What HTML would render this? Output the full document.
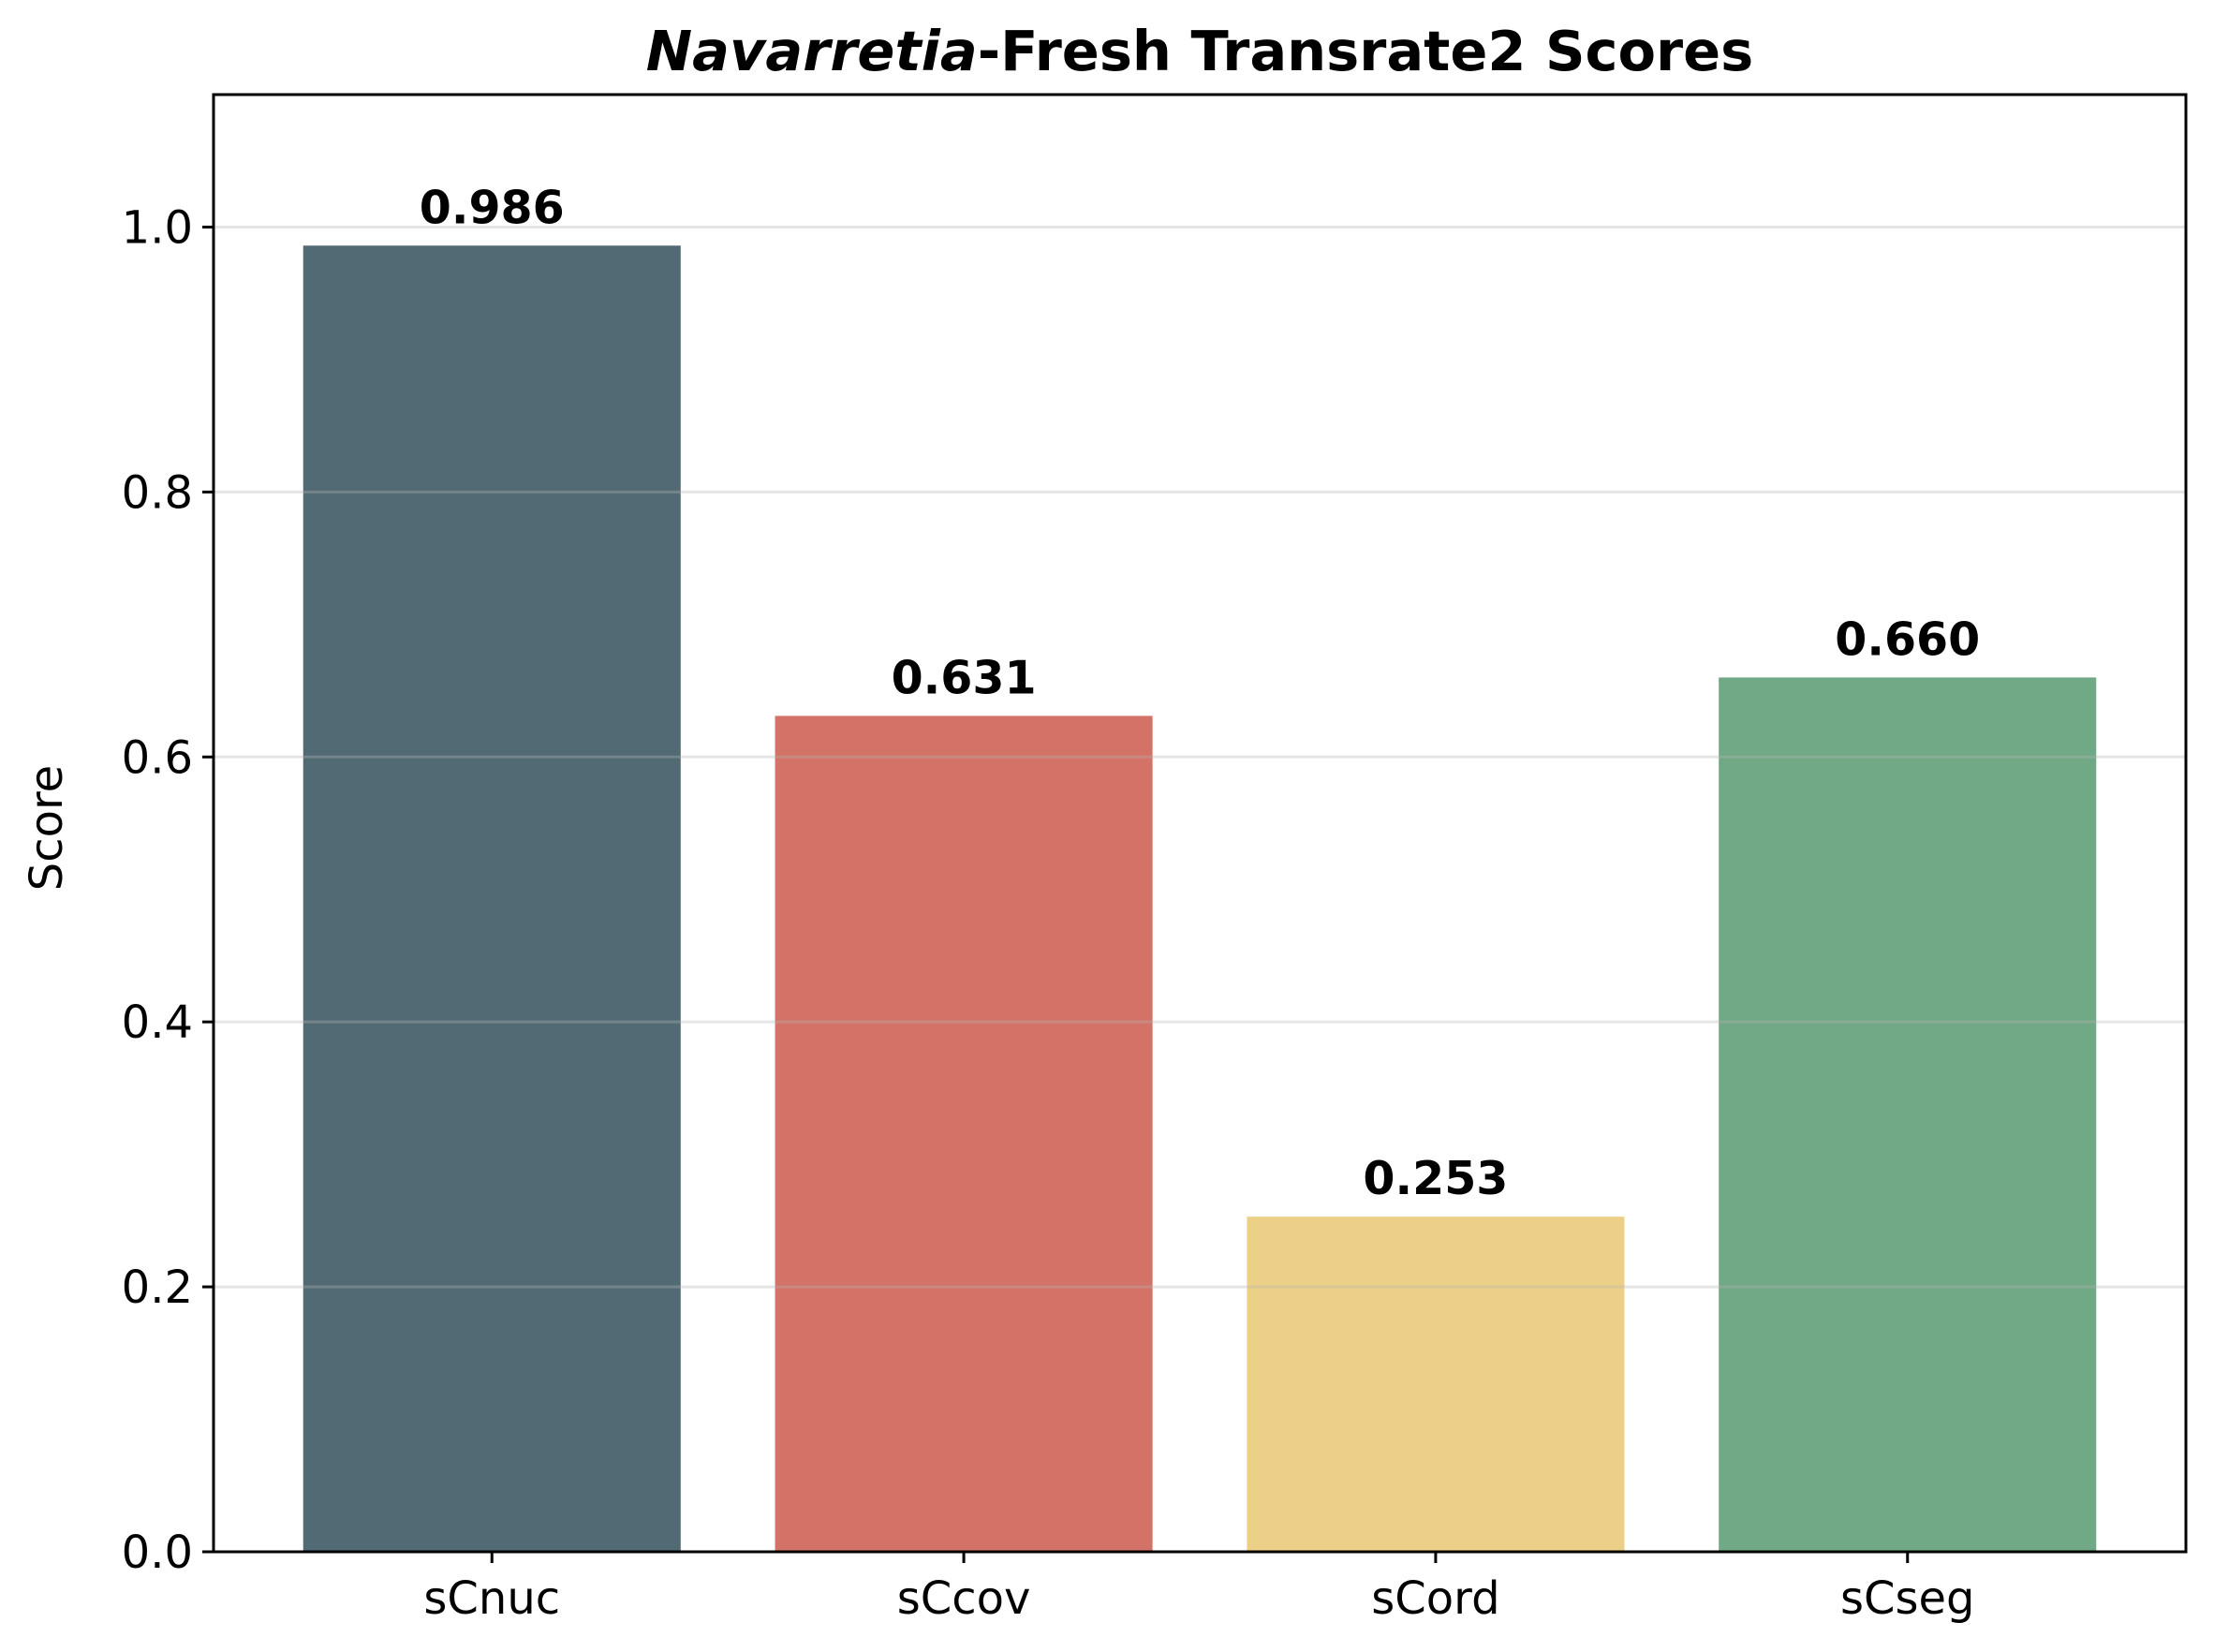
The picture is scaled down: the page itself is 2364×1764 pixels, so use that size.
<!DOCTYPE html>
<html><head><meta charset="utf-8"><style>
html,body{margin:0;padding:0;background:#fff}
svg{display:block}
text{font-family:"DejaVu Sans","Liberation Sans",sans-serif}
</style></head><body>
<svg id="chart" width="2364" height="1764" viewBox="0 0 2364 1764">
<rect width="2364" height="1764" fill="#fff"/>
<g id="bars"></g><g id="grid"></g><g id="labels"></g><g id="axes"></g>
<text x="1281" y="75" text-anchor="middle" font-size="59" font-weight="bold"><tspan font-style="italic">Navarretia</tspan>-Fresh Transrate2 Scores</text>
<text transform="translate(66,884) rotate(-90)" text-anchor="middle" font-size="48">Score</text>
</svg>
<script>
const categories = ["sCnuc","sCcov","sCord","sCseg"];
const values = [0.986,0.631,0.253,0.660];
const valueLabels = ["0.986","0.631","0.253","0.660"];
const colors = ["#526a73","#d37266","#ecd088","#71a885"];
const yTicks = [0.0,0.2,0.4,0.6,0.8,1.0];
const yTickLabels = ["0.0","0.2","0.4","0.6","0.8","1.0"];

const L=228,R=2334,T=101,B=1657;
const xMin=-0.59,xMax=3.59,yMin=0,yMax=1.1;
const x=v=>L+(v-xMin)/(xMax-xMin)*(R-L);
const y=v=>B-(v-yMin)/(yMax-yMin)*(B-T);
const NS="http://www.w3.org/2000/svg";
function mk(tag,attrs,parent){const e=document.createElementNS(NS,tag);for(const k in attrs)e.setAttribute(k,attrs[k]);parent.appendChild(e);return e;}
const gBars=document.getElementById('bars'),gGrid=document.getElementById('grid'),gLab=document.getElementById('labels'),gAx=document.getElementById('axes');
const bw=0.8;
categories.forEach((c,i)=>{
  const r=mk('rect',{x:x(i-bw/2),y:y(values[i]),width:x(i+bw/2)-x(i-bw/2),height:y(0)-y(values[i]),fill:colors[i]},gBars);
  
  
  const t=mk('text',{x:x(i),y:y(values[i])-24,'text-anchor':'middle','font-size':'49','font-weight':'bold'},gLab);
  t.textContent=valueLabels[i];
  
  
  const tk=mk('line',{x1:x(i),x2:x(i),y1:B,y2:B+12,stroke:'#000','stroke-width':3},gAx);
  
  
  const tl=mk('text',{x:x(i),y:1723,'text-anchor':'middle','font-size':'48'},gAx);
  tl.textContent=c;
  
  
});
yTicks.forEach((v,i)=>{
  if(v>0){const g=mk('line',{x1:L,x2:R,y1:y(v),y2:y(v),stroke:'rgba(180,180,180,0.35)','stroke-width':3},gGrid);
  
  }
  const tk=mk('line',{x1:L-12,x2:L,y1:y(v),y2:y(v),stroke:'#000','stroke-width':3},gAx);
  
  
  const tl=mk('text',{x:L-22,y:y(v)+17,'text-anchor':'end','font-size':'48'},gAx);
  tl.textContent=yTickLabels[i];
  
  
});
const fr=mk('rect',{x:L,y:T,width:R-L,height:B-T,fill:'none',stroke:'#000','stroke-width':3},gAx);


</script>
</body></html>
